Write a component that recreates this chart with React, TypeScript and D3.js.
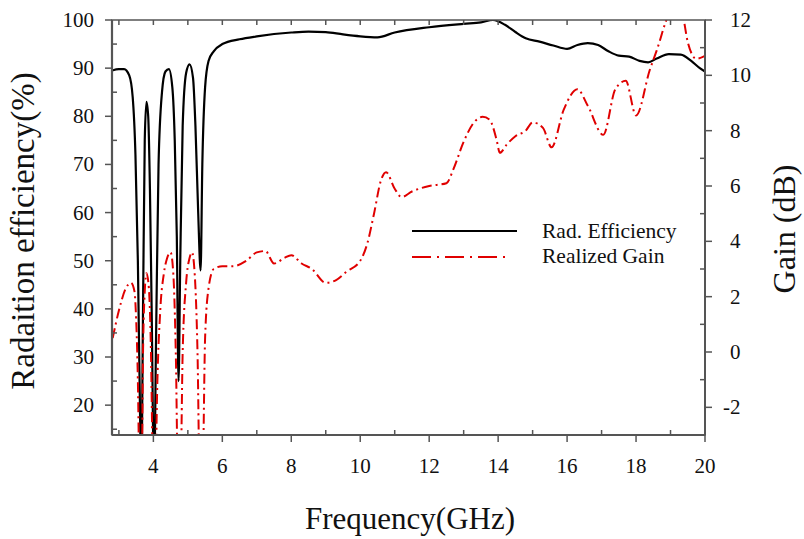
import React from "react";
import * as d3 from "d3";

const effFreq = [2.8,3.0,3.15,3.3,3.4,3.48,3.55,3.6,3.65,3.7,3.75,3.8,3.85,3.9,3.95,4.02,4.08,4.15,4.25,4.35,4.45,4.55,4.62,4.68,4.73,4.78,4.85,4.95,5.05,5.15,5.22,5.3,5.37,5.42,5.5,5.6,5.75,6.0,6.5,7,8,8.5,9,9.5,10,10.5,11,12,13,13.5,13.85,14.2,14.5,14.8,15.2,15.6,16.0,16.3,16.6,16.9,17.2,17.5,17.8,18.1,18.35,18.6,18.95,19.3,19.6,19.85,20];
const effVals = [89.5,89.8,89.8,88.5,84,72,50,25,5,40,75,83,80,65,40,5,35,70,85,89.3,89.8,86,75,55,25,50,78,89,90.8,88,78,60,48,70,86,91.5,93.5,95,96,96.6,97.4,97.6,97.5,97,96.6,96.4,97.4,98.5,99.2,99.5,100,99,97.5,96.2,95.5,94.7,94,94.8,95.2,94.8,93.5,92.6,92.4,91.5,91.2,92,92.9,92.8,91.5,90,89.3];

const gainFreq = [2.82,3.0,3.2,3.35,3.45,3.5,3.55,3.6,3.65,3.7,3.75,3.8,3.87,3.93,3.98,4.05,4.1,4.2,4.3,4.4,4.5,4.58,4.65,4.72,4.78,4.85,4.95,5.05,5.12,5.2,5.28,5.35,5.42,5.5,5.6,5.75,6.0,6.3,6.7,7.0,7.25,7.5,7.8,8.0,8.3,8.6,9.0,9.3,9.6,10.0,10.2,10.4,10.6,10.75,11.0,11.2,11.5,12.0,12.5,12.7,13.0,13.3,13.55,13.75,13.95,14.05,14.25,14.5,14.8,15.0,15.3,15.55,15.9,16.3,16.6,17.05,17.4,17.7,18.0,18.4,18.6,18.95,19.2,19.35,19.5,19.75,20];
const gainVals = [0.5,1.5,2.3,2.5,2.2,1.2,-1,-5,-6,0,2.2,2.85,2.3,0,-4,-6,-2,1.5,2.8,3.4,3.6,2.8,0,-5,-5,0,2.5,3.4,3.6,2.8,0,-5,-5,0.5,2.3,3.0,3.1,3.1,3.3,3.6,3.65,3.2,3.4,3.5,3.2,3.0,2.5,2.6,2.9,3.3,3.9,5.0,6.2,6.5,5.9,5.6,5.8,6.0,6.1,6.6,7.6,8.3,8.5,8.4,7.7,7.2,7.5,7.8,8.0,8.3,8.1,7.4,8.75,9.5,8.9,7.85,9.5,9.8,8.55,10.2,10.9,12.2,12.5,12.2,11.2,10.6,10.7];

const xTicks = [4,6,8,10,12,14,16,18,20];
const yLeftTicks = [20,30,40,50,60,70,80,90,100];
const yRightTicks = [-2,0,2,4,6,8,10,12];
const legendLabels = ["Rad. Efficiency", "Realized Gain"];

const W = 804, H = 539;
const L = 112, R = 705, T = 20, B = 435;
const FONT = "'Liberation Serif', 'Times New Roman', serif";
const DASH = "10,4,2,4";

export default function App() {
  const x = d3.scaleLinear().domain([2.8, 20]).range([L, R]);
  const yL = d3.scaleLinear().domain([13.8, 100]).range([B, T]);
  const yR = d3.scaleLinear().domain([-3, 12]).range([B, T]);

  const effData = effFreq.map((f, i) => [f, effVals[i]] as [number, number]);
  const gainData = gainFreq.map((f, i) => [f, gainVals[i]] as [number, number]);

  const effLine = d3.line<[number, number]>().x(d => x(d[0])).y(d => yL(d[1])).curve(d3.curveMonotoneX);
  const gainLine = d3.line<[number, number]>().x(d => x(d[0])).y(d => yR(d[1])).curve(d3.curveMonotoneX);

  const xMinor = d3.range(3, 21, 1);
  const yLMinor = d3.range(15, 101, 5);
  const yRMinor = d3.range(-3, 13, 1);
  const axisColor = "#555";

  return (
    <svg width={W} height={H} style={{ position: "absolute", left: 0, top: 0, background: "#fff" }}>
      <defs>
        <clipPath id="plotClip">
          <rect x={L} y={T} width={R - L} height={B - T} />
        </clipPath>
      </defs>

      <g clipPath="url(#plotClip)" fill="none">
        <path d={effLine(effData) || ""} stroke="#000" strokeWidth={2.2} />
        <path d={gainLine(gainData) || ""} stroke="#e00000" strokeWidth={2} strokeDasharray={DASH} />
      </g>

      {/* frame */}
      <rect x={L} y={T} width={R - L} height={B - T} fill="none" stroke={axisColor} strokeWidth={1.5} />
      <line x1={L} x2={L} y1={T} y2={B} stroke={axisColor} strokeWidth={2.2} />
      <line x1={L} x2={R} y1={B} y2={B} stroke={axisColor} strokeWidth={2} />
      <line x1={R} x2={R} y1={T} y2={B} stroke={axisColor} strokeWidth={2} />

      {/* x ticks: majors outward, minors inward; top inward */}
      {xMinor.map(v => {
        const major = v % 2 === 0;
        return (
          <g key={"xt" + v}>
            {major
              ? <line x1={x(v)} x2={x(v)} y1={B} y2={B + 7} stroke={axisColor} strokeWidth={1.5} />
              : <line x1={x(v)} x2={x(v)} y1={B} y2={B - 5} stroke={axisColor} strokeWidth={1.5} />}
            <line x1={x(v)} x2={x(v)} y1={T} y2={T + 5} stroke={axisColor} strokeWidth={1.5} />
          </g>
        );
      })}
      {xTicks.map(v => (
        <text key={"xl" + v} x={x(v)} y={B + 38} textAnchor="middle" fontFamily={FONT} fontSize={21} fill="#111">{v}</text>
      ))}

      {/* left ticks */}
      {yLMinor.map(v => {
        const major = v % 10 === 0;
        return major
          ? <line key={"ylt" + v} x1={L} x2={L - 7} y1={yL(v)} y2={yL(v)} stroke={axisColor} strokeWidth={1.5} />
          : <line key={"ylt" + v} x1={L} x2={L + 5} y1={yL(v)} y2={yL(v)} stroke={axisColor} strokeWidth={1.5} />;
      })}
      {yLeftTicks.map(v => (
        <text key={"yll" + v} x={94} y={yL(v) + 7} textAnchor="end" fontFamily={FONT} fontSize={21} fill="#111">{v}</text>
      ))}

      {/* right ticks */}
      {yRMinor.map(v => {
        const major = v % 2 === 0;
        return major
          ? <line key={"yrt" + v} x1={R} x2={R + 7} y1={yR(v)} y2={yR(v)} stroke={axisColor} strokeWidth={1.5} />
          : <line key={"yrt" + v} x1={R} x2={R - 5} y1={yR(v)} y2={yR(v)} stroke={axisColor} strokeWidth={1.5} />;
      })}
      {yRightTicks.map(v => (
        <text key={"yrl" + v} x={v < 0 ? 723 : 730} y={yR(v) + 7} textAnchor="start" fontFamily={FONT} fontSize={21} fill="#111">{v}</text>
      ))}

      {/* axis titles */}
      <text x={410} y={529} textAnchor="middle" fontFamily={FONT} fontSize={31} fill="#111">Frequency(GHz)</text>
      <text transform={`translate(34,231) rotate(-90)`} textAnchor="middle" fontFamily={FONT} fontSize={33} fill="#111">Radaition efficiency(%)</text>
      <text transform={`translate(795,229) rotate(-90)`} textAnchor="middle" fontFamily={FONT} fontSize={32} fill="#111">Gain (dB)</text>

      {/* legend */}
      <line x1={412} x2={517} y1={231} y2={231} stroke="#000" strokeWidth={2} />
      <text x={542} y={238} fontFamily={FONT} fontSize={21.5} fill="#111">{legendLabels[0]}</text>
      <line x1={412} x2={510} y1={257} y2={257} stroke="#e00000" strokeWidth={2} strokeDasharray="19,6,2,6" />
      <text x={542} y={263} fontFamily={FONT} fontSize={21.5} fill="#111">{legendLabels[1]}</text>
    </svg>
  );
}
